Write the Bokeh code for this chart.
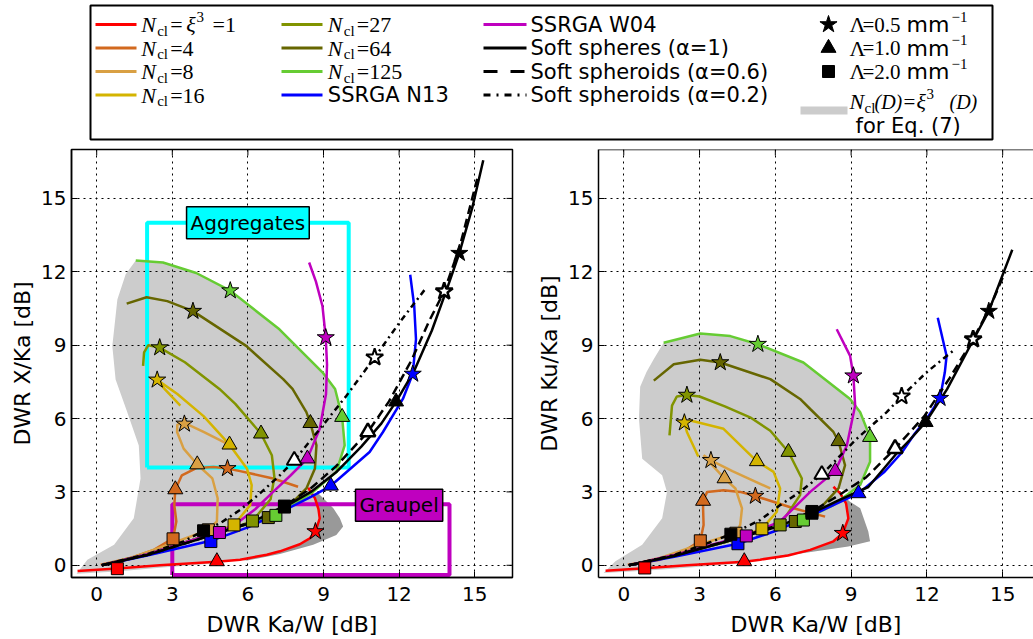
from bokeh.plotting import figure
from bokeh.layouts import column, row
from bokeh.models import Range1d, FixedTicker, Label, Span
from bokeh.core.properties import value
from bokeh.embed import file_html
from bokeh.resources import INLINE

TICKS = [0, 3, 6, 9, 12, 15]

# ---------------- data: left panel (DWR X/Ka vs DWR Ka/W) ----------------
L_N1 = [(-0.76, -0.23), (0.82, -0.13), (2.5, 0.0), (4.77, 0.14), (5.69, 0.23), (6.75, 0.43), (7.27, 0.57),
        (8.06, 0.86), (8.45, 1.1), (8.68, 1.38), (8.85, 1.92), (8.8, 2.3), (8.66, 2.74), (8.39, 3.17)]
L_N4 = [(0.16, 0.02), (1.34, 0.3), (2.27, 0.63), (3.03, 1.1), (3.16, 1.79), (3.08, 2.46), (3.12, 3.1),
        (3.38, 3.68), (3.97, 3.98), (4.64, 4.02), (5.19, 3.96), (5.69, 3.85), (7.0, 3.55), (7.99, 3.21)]
L_N8 = [(0.2, 0.0), (1.5, 0.35), (3.0, 0.9), (4.43, 1.45), (4.77, 1.79), (4.8, 2.74), (4.59, 3.55),
        (3.99, 4.12), (3.45, 4.77), (3.19, 5.45), (3.2, 5.75), (3.48, 5.82), (4.24, 5.45), (5.56, 4.77)]
L_N16 = [(0.2, 0.0), (2.0, 0.45), (4.0, 1.1), (5.45, 1.65), (6.09, 2.46), (6.15, 3.28), (5.96, 3.96),
         (5.27, 4.93), (4.24, 6.1), (3.2, 7.0), (2.4, 7.58), (2.7, 7.2), (3.32, 6.53)]
L_N27 = [(0.2, 0.0), (2.0, 0.45), (4.0, 1.1), (5.5, 1.55), (6.18, 1.81), (6.9, 2.7), (7.05, 3.6), (6.95, 4.5),
         (6.52, 5.38), (5.5, 6.6), (4.87, 7.21), (3.5, 8.3), (2.5, 8.9), (2.05, 9.0), (1.88, 8.7), (1.84, 8.15)]
L_N64 = [(0.2, 0.0), (2.0, 0.45), (4.0, 1.1), (6.0, 1.7), (6.81, 1.95), (7.8, 2.6), (8.32, 3.14), (8.66, 3.96),
         (8.72, 4.9), (8.48, 5.81), (8.32, 6.26), (7.77, 7.21), (7.4, 7.61), (5.93, 8.97), (3.82, 10.39),
         (2.8, 10.8), (1.98, 10.96), (1.19, 10.7)]
L_N125 = [(0.2, 0.0), (2.0, 0.45), (4.0, 1.1), (6.0, 1.7), (7.11, 2.04), (7.67, 2.4), (8.59, 3.0), (9.51, 3.82),
          (9.84, 4.9), (9.74, 6.06), (9.46, 7.21), (8.96, 7.89), (7.25, 9.65), (5.3, 11.23), (3.95, 11.95),
          (2.63, 12.38), (1.55, 12.46)]
L_N13 = [(0.2, 0.0), (2.0, 0.4), (4.53, 1.0), (6.0, 1.55), (7.45, 2.25), (8.5, 2.8), (9.29, 3.25), (10.83, 4.63),
         (11.36, 5.45), (12.15, 6.8), (12.54, 7.82), (12.67, 9.24), (12.6, 10.6), (12.44, 11.88)]
L_W04 = [(0.2, 0.0), (2.0, 0.45), (4.0, 1.1), (4.87, 1.34), (5.6, 1.75), (6.3, 2.3), (7.0, 3.0), (7.67, 3.65),
         (8.36, 4.36), (8.85, 5.58), (9.1, 7.0), (9.14, 8.2), (9.09, 9.31), (8.96, 10.59), (8.7, 11.6), (8.43, 12.38)]
L_SPH10 = [(0.2, 0.0), (2.0, 0.42), (4.0, 1.05), (6.0, 1.7), (7.45, 2.38), (8.5, 3.0), (9.5, 3.8), (10.5, 4.85),
           (11.3, 5.8), (11.88, 6.69), (12.6, 7.95), (13.3, 9.6), (13.9, 11.3), (14.39, 12.76), (14.9, 14.6),
           (15.34, 16.56)]
L_SPH06 = [(0.2, 0.0), (2.0, 0.42), (4.0, 1.05), (6.0, 1.72), (7.45, 2.42), (8.5, 3.15), (9.5, 4.05),
           (10.76, 5.45), (11.6, 6.7), (12.5, 8.4), (13.2, 10.0), (13.79, 11.2), (14.4, 13.0), (15.1, 15.8)]
L_SPH02 = [(0.2, 0.0), (2.0, 0.45), (3.45, 0.98), (4.24, 1.41), (4.9, 1.72), (5.69, 2.26), (6.48, 2.94),
           (7.27, 3.68), (7.84, 4.29), (8.8, 5.5), (9.91, 6.93), (11.03, 8.5), (12.0, 9.9), (13.07, 11.34)]
# markers: (square = Lambda 2.0, triangle = Lambda 1.0, star = Lambda 0.5)
L_MK = {
    "n1": [(0.82, -0.14), (4.77, 0.16), (8.68, 1.38)],
    "n4": [(3.03, 1.08), (3.12, 3.1), (5.19, 3.96)],
    "n8": [(4.43, 1.45), (3.99, 4.12), (3.48, 5.78)],
    "n16": [(5.45, 1.65), (5.27, 4.93), (2.4, 7.58)],
    "n27": [(6.18, 1.81), (6.52, 5.38), (2.5, 8.9)],
    "n64": [(6.81, 1.95), (8.48, 5.81), (3.82, 10.39)],
    "n125": [(7.11, 2.04), (9.74, 6.06), (5.3, 11.23)],
    "n13": [(4.53, 0.97), (9.29, 3.25), (12.54, 7.82)],
    "w04": [(4.87, 1.34), (8.36, 4.36), (9.09, 9.31)],
    "s10": [(7.45, 2.38), (11.88, 6.69), (14.39, 12.76)],
    "s06": [(7.45, 2.42), (10.76, 5.45), (13.79, 11.2)],
    "s02": [(4.24, 1.41), (7.84, 4.29), (11.03, 8.5)],
}
L_GRAY = [(1.55, 12.46), (2.63, 12.38), (3.95, 11.95), (5.3, 11.23), (7.25, 9.65), (8.96, 7.89), (9.46, 7.21),
          (9.74, 6.06), (9.84, 4.9), (9.51, 3.82), (8.9, 3.25), (8.45, 3.1), (8.72, 2.46), (8.85, 1.92),
          (8.68, 1.38), (8.06, 0.86), (6.75, 0.43), (4.77, 0.08), (2.5, -0.1), (0.8, -0.25), (-0.8, -0.35),
          (-0.37, 0.23), (0.69, 0.84), (1.47, 1.92), (1.74, 3.55), (1.67, 4.9), (1.21, 6.27), (0.75, 7.6),
          (0.62, 8.97), (0.82, 10.87), (1.15, 11.9)]
L_DARK = [(8.6, 2.9), (8.79, 2.94), (9.39, 2.33), (9.65, 1.92), (9.78, 1.59), (9.51, 1.24), (8.59, 0.84),
          (7.27, 0.46), (5.96, 0.19), (5.69, 0.23), (7.27, 0.57), (8.32, 0.98), (8.68, 1.38), (8.85, 1.92),
          (8.72, 2.46)]
AGG_BOX = (2, 10, 4, 14)       # x0, x1, y0, y1
GRAUPEL_BOX = (3, 14, -0.4, 2.5)

# ---------------- data: right panel (DWR Ku/Ka vs DWR Ka/W) ----------------
R_N1 = [(-0.72, -0.22), (0.83, -0.12), (2.5, 0.0), (4.77, 0.14), (5.4, 0.23), (6.5, 0.4), (7.38, 0.63),
        (8.3, 0.98), (8.67, 1.31), (8.89, 1.92), (8.8, 2.53), (8.57, 2.94), (8.3, 3.21)]
R_N4 = [(0.16, 0.02), (1.45, 0.23), (2.37, 0.57), (3.03, 1.0), (3.16, 1.65), (3.14, 2.33), (3.14, 2.63),
        (3.3, 3.0), (3.95, 3.07), (4.61, 3.0), (5.21, 2.83), (6.72, 2.33), (7.97, 1.99)]
R_N8 = [(0.2, 0.0), (1.5, 0.32), (3.0, 0.85), (4.44, 1.31), (4.61, 1.65), (4.68, 2.33), (4.42, 3.14),
        (3.99, 3.55), (3.45, 4.15), (3.16, 4.5), (3.45, 4.29), (4.3, 3.85), (5.8, 3.14)]
R_N16 = [(0.2, 0.0), (2.0, 0.4), (4.0, 0.95), (5.47, 1.49), (6.06, 2.19), (6.19, 3.14), (5.93, 3.82),
         (5.27, 4.25), (3.95, 5.58), (2.64, 5.92), (2.4, 5.83), (2.5, 5.45), (2.95, 4.45)]
R_N27 = [(0.2, 0.0), (2.0, 0.4), (4.0, 0.95), (5.5, 1.42), (6.19, 1.65), (6.98, 2.87), (7.05, 3.55),
         (6.52, 4.63), (5.8, 5.5), (5.0, 6.05), (4.0, 6.5), (3.0, 6.9), (2.5, 6.96), (2.1, 6.9), (1.91, 6.53),
         (1.81, 5.31)]
R_N64 = [(0.2, 0.0), (2.0, 0.4), (4.0, 0.95), (6.0, 1.6), (6.79, 1.79), (7.77, 2.33), (8.5, 3.14), (8.76, 4.09),
         (8.5, 5.07), (8.3, 5.45), (7.38, 6.39), (6.98, 6.8), (5.8, 7.61), (3.82, 8.29), (3.03, 8.4),
         (1.98, 8.22), (1.19, 7.55)]
R_N125 = [(0.2, 0.0), (2.0, 0.4), (4.0, 0.95), (6.0, 1.6), (7.11, 1.85), (8.3, 2.46), (9.36, 3.28),
          (9.75, 4.23), (9.75, 5.24), (9.36, 6.26), (8.96, 6.8), (7.11, 8.29), (5.31, 9.04), (4.22, 9.37),
          (3.03, 9.48), (1.58, 9.1)]
R_N13 = [(0.2, 0.0), (2.0, 0.35), (4.52, 0.88), (6.0, 1.4), (7.45, 2.05), (9.29, 2.94), (10.3, 3.8),
         (11.0, 4.6), (11.53, 5.4), (12.0, 6.0), (12.52, 6.83), (12.71, 7.89), (12.78, 8.56), (12.43, 10.12)]
R_W04 = [(0.2, 0.0), (2.0, 0.42), (4.0, 0.98), (4.85, 1.2), (6.19, 1.79), (7.38, 3.0), (8.37, 3.85),
         (8.83, 4.9), (9.16, 6.53), (9.09, 7.75), (8.96, 8.56), (8.43, 9.65)]
R_SPH10 = [(0.2, 0.0), (2.0, 0.38), (4.0, 0.95), (6.0, 1.55), (7.45, 2.13), (8.5, 2.65), (9.68, 3.2),
           (10.74, 4.5), (11.3, 5.1), (11.95, 5.85), (12.8, 7.2), (13.83, 9.2), (14.45, 10.39), (15.38, 12.9)]
R_SPH06 = [(0.2, 0.0), (2.0, 0.4), (4.0, 0.97), (6.0, 1.6), (7.45, 2.2), (8.5, 2.85), (9.6, 3.6),
           (10.74, 4.77), (11.9, 6.1), (12.9, 7.65), (13.83, 9.24), (14.5, 10.55), (15.1, 12.0)]
R_SPH02 = [(0.2, 0.0), (2.0, 0.42), (3.45, 0.95), (4.24, 1.27), (5.4, 1.85), (6.19, 2.46), (6.98, 3.0),
           (7.84, 3.71), (9.22, 5.17), (10.41, 6.26), (11.0, 6.91), (12.0, 7.9), (13.11, 8.83)]
R_MK = {
    "n1": [(0.83, -0.11), (4.77, 0.16), (8.67, 1.31)],
    "n4": [(3.03, 1.0), (3.14, 2.63), (5.21, 2.83)],
    "n8": [(4.44, 1.31), (3.99, 3.55), (3.45, 4.29)],
    "n16": [(5.47, 1.49), (5.27, 4.25), (2.4, 5.83)],
    "n27": [(6.19, 1.65), (6.52, 4.63), (2.5, 6.96)],
    "n64": [(6.79, 1.79), (8.5, 5.07), (3.82, 8.29)],
    "n125": [(7.11, 1.85), (9.75, 5.24), (5.31, 9.04)],
    "n13": [(4.52, 0.88), (9.29, 2.94), (12.52, 6.83)],
    "w04": [(4.85, 1.2), (8.37, 3.85), (9.09, 7.75)],
    "s10": [(7.45, 2.13), (11.95, 5.85), (14.45, 10.39)],
    "s06": [(7.45, 2.2), (10.74, 4.77), (13.83, 9.24)],
    "s02": [(4.24, 1.27), (7.84, 3.71), (11.0, 6.91)],
}
R_GRAY = [(1.58, 9.1), (3.03, 9.48), (4.22, 9.37), (5.31, 9.04), (7.11, 8.29), (8.96, 6.8), (9.36, 6.26),
          (9.75, 5.24), (9.75, 4.23), (9.36, 3.28), (8.9, 3.0), (8.3, 3.21), (8.57, 2.94), (8.8, 2.53),
          (8.89, 1.92), (8.67, 1.31), (8.3, 0.98), (7.38, 0.63), (5.4, 0.2), (4.77, 0.08), (2.5, -0.1),
          (0.83, -0.22), (-0.8, -0.32), (-0.33, 0.16), (0.73, 0.84), (1.52, 1.92), (1.71, 3.0), (1.52, 3.68),
          (0.73, 4.36), (0.6, 6.0), (0.65, 7.3), (0.9, 7.9), (1.19, 8.43)]
R_DARK = [(8.6, 2.9), (8.96, 2.6), (9.36, 2.33), (9.68, 1.38), (9.75, 0.98), (8.89, 0.77), (6.26, 0.37),
          (5.4, 0.23), (7.38, 0.63), (8.3, 0.98), (8.67, 1.31), (8.89, 1.92), (8.8, 2.53)]

SERIES_ORDER = ["n1", "n4", "n8", "n16", "n27", "n64", "n125", "n13", "w04"]
COLORS = {"n1": "#ff0000", "n4": "#d2691e", "n8": "#d9a043", "n16": "#d4b400", "n27": "#819400",
          "n64": "#666600", "n125": "#66cc33", "n13": "#0000ff", "w04": "#bf00bf"}
LIGHT_GRAY = "#cccccc"
DARK_GRAY = "#999999"
DASH_06 = "9 5"
DASH_02 = "6 4 2 4"
X_START, Y_START, Y_END = -1, -0.5, 17
PH, MBT, MBB = 494, 4, 60


def xs(pts):
    return [p[0] for p in pts]


def ys(pts):
    return [p[1] for p in pts]


def style_axis(ax, label, tick_standoff, label_standoff):
    ax.ticker = FixedTicker(ticks=TICKS)
    ax.axis_label = label
    ax.axis_label_text_font = "DejaVu Sans"
    ax.axis_label_text_font_size = "22px"
    ax.axis_label_text_font_style = "normal"
    ax.axis_label_text_color = "black"
    ax.axis_label_standoff = label_standoff
    ax.major_label_text_font = "DejaVu Sans"
    ax.major_label_text_font_size = "20px"
    ax.major_label_text_color = "black"
    ax.major_label_standoff = tick_standoff
    ax.major_tick_in = 6
    ax.major_tick_out = 0
    ax.minor_tick_in = 0
    ax.minor_tick_out = 0
    ax.major_tick_line_color = "black"
    ax.axis_line_color = "black"
    ax.axis_line_width = 1.5


def panel(ylabel, curves, soft, mk, gray, dark, width, mbl, mbr, xend, right_frame, boxes=False):
    p = figure(width=width, height=PH, x_range=Range1d(X_START, xend), y_range=Range1d(Y_START, Y_END),
               output_backend="svg", toolbar_location=None, min_border_left=mbl, min_border_right=mbr,
               min_border_top=MBT, min_border_bottom=MBB)
    style_axis(p.xaxis[0], "DWR Ka/W [dB]", 9, 8)
    style_axis(p.yaxis[0], ylabel, 5, 3)
    frame_w = width - mbl - mbr
    frame_h = PH - MBT - MBB
    dx = 6.0 * (xend - X_START) / frame_w
    dy = 6.0 * (Y_END - Y_START) / frame_h
    # inward ticks on top (and right) edges
    p.segment(x0=TICKS, y0=[Y_END] * len(TICKS), x1=TICKS, y1=[Y_END - dy] * len(TICKS),
              line_color="black", line_width=1)
    if right_frame:
        p.segment(x0=[xend] * len(TICKS), y0=TICKS, x1=[xend - dx] * len(TICKS), y1=TICKS,
                  line_color="black", line_width=1)
        p.outline_line_color = "black"
        p.outline_line_width = 1.5
    else:
        p.outline_line_color = None
        p.add_layout(Span(location=Y_END, dimension="width", line_color="black", line_width=1.5))
    for g in p.grid:
        g.ticker = FixedTicker(ticks=TICKS)
        g.grid_line_color = "black"
        g.grid_line_dash = "dotted"
        g.grid_line_width = 1
    p.background_fill_color = "white"

    p.patch(xs(gray), ys(gray), fill_color=LIGHT_GRAY, line_color=None, level="image")
    p.patch(xs(dark), ys(dark), fill_color=DARK_GRAY, line_color=None, level="image")

    if boxes:
        x0, x1, y0, y1 = AGG_BOX
        p.line([x0, x0, x1, x1, x0], [y0, y1, y1, y0, y0], line_color="#00ffff", line_width=4)
        x0, x1, y0, y1 = GRAUPEL_BOX
        p.line([x0, x0, x1, x1, x0], [y0, y1, y1, y0, y0], line_color="#bf00bf", line_width=4)

    for key in SERIES_ORDER:
        pts = curves[key]
        p.line(xs(pts), ys(pts), line_color=COLORS[key], line_width=2.5)
    p.line(xs(soft[2]), ys(soft[2]), line_color="black", line_width=2.5, line_dash=DASH_02)
    p.line(xs(soft[1]), ys(soft[1]), line_color="black", line_width=2.5, line_dash=DASH_06)
    p.line(xs(soft[0]), ys(soft[0]), line_color="black", line_width=2.5)

    for key in SERIES_ORDER:
        sq, tr, st = mk[key]
        c = COLORS[key]
        p.scatter([sq[0]], [sq[1]], marker="square", size=12, fill_color=c, line_color="black", line_width=1)
        p.scatter([tr[0]], [tr[1]], marker="triangle", size=15, fill_color=c, line_color="black", line_width=1)
        p.scatter([st[0]], [st[1]], marker="star", size=18, fill_color=c, line_color="black", line_width=1)
    for key, fill, lw in [("s02", "white", 2), ("s06", "white", 2.5), ("s10", "black", 1)]:
        sq, tr, st = mk[key]
        p.scatter([sq[0]], [sq[1]], marker="square", size=12, fill_color="black", line_color="black", line_width=1)
        p.scatter([tr[0]], [tr[1]], marker="triangle", size=15, fill_color=fill, line_color="black", line_width=lw)
        p.scatter([st[0]], [st[1]], marker="star", size=18, fill_color=fill, line_color="black", line_width=lw)

    if boxes:
        p.add_layout(Label(x=6, y=14, text="Aggregates", text_align="center", text_baseline="middle",
                           text_font="DejaVu Sans", text_font_size="20px", text_color="black",
                           background_fill_color="#00ffff", border_line_color="black",
                           border_line_width=1.5, padding=4))
        p.add_layout(Label(x=12, y=2.45, text="Graupel", text_align="center", text_baseline="middle",
                           text_font="DejaVu Sans", text_font_size="20px", text_color="black",
                           background_fill_color="#bf00bf", border_line_color="black",
                           border_line_width=1.5, padding=4))
    return p


left_curves = {"n1": L_N1, "n4": L_N4, "n8": L_N8, "n16": L_N16, "n27": L_N27, "n64": L_N64,
               "n125": L_N125, "n13": L_N13, "w04": L_W04}
right_curves = {"n1": R_N1, "n4": R_N4, "n8": R_N8, "n16": R_N16, "n27": R_N27, "n64": R_N64,
                "n125": R_N125, "n13": R_N13, "w04": R_W04}

P1W = 520
p1 = panel("DWR X/Ka [dB]", left_curves, [L_SPH10, L_SPH06, L_SPH02], L_MK, L_GRAY, L_DARK,
           P1W, 71, 8, 16.5, True, boxes=True)
p2 = panel("DWR Ku/Ka [dB]", right_curves, [R_SPH10, R_SPH06, R_SPH02], R_MK, R_GRAY, R_DARK,
           1033 - P1W, 78, 0, 16.22, False)

# ---------------- legend ----------------
LW, LH = 1033, 145
leg = figure(width=LW, height=LH, x_range=Range1d(0, LW), y_range=Range1d(LH, 0), output_backend="svg",
             toolbar_location=None, x_axis_type=None, y_axis_type=None, min_border=0)
leg.grid.visible = False
leg.outline_line_color = None


def T(x, y, s, size="21px", font="DejaVu Sans", style="normal"):
    leg.text(x=[x], y=[y], text=[s], text_font=value(font), text_font_size=size,
             text_font_style=style, text_align="left", text_baseline="middle", text_color="black")


def seg(x0, x1, y, color, dash="solid"):
    leg.line([x0, x1], [y, y], line_color=color, line_width=3, line_dash=dash)


def ncl(x0, y, rest):
    T(x0, y, "N", "22px", "Liberation Serif", "italic")
    T(x0 + 16, y + 6, "cl", "15px", "Liberation Serif")
    T(x0 + 29, y, rest, "22px", "Liberation Serif")


leg.quad(left=[90], right=[992], top=[5], bottom=[139], fill_color=None, line_color="black", line_width=2)

ROWS = [24, 47.5, 71, 94.5]
# column 1
seg(95, 136, ROWS[0], COLORS["n1"])
T(140.7, ROWS[0], "N", "22px", "Liberation Serif", "italic")
T(156.7, ROWS[0] + 6, "cl", "15px", "Liberation Serif")
T(169.7, ROWS[0], "=", "22px", "Liberation Serif")
T(185.7, ROWS[0], "ξ", "22px", "Liberation Serif", "italic")
T(196, ROWS[0] - 8, "3", "15px", "Liberation Serif")
T(212, ROWS[0], "=1", "22px", "Liberation Serif")
seg(95, 136, ROWS[1], COLORS["n4"])
ncl(140.7, ROWS[1], "=4")
seg(95, 136, ROWS[2], COLORS["n8"])
ncl(140.7, ROWS[2], "=8")
seg(95, 136, ROWS[3], COLORS["n16"])
ncl(140.7, ROWS[3], "=16")
# column 2
seg(281, 322, ROWS[0], COLORS["n27"])
ncl(327.3, ROWS[0], "=27")
seg(281, 322, ROWS[1], COLORS["n64"])
ncl(327.3, ROWS[1], "=64")
seg(281, 322, ROWS[2], COLORS["n125"])
ncl(327.3, ROWS[2], "=125")
seg(281, 322, ROWS[3], COLORS["n13"])
T(327.3, ROWS[3], "SSRGA N13")
# column 3
seg(483, 526, ROWS[0], COLORS["w04"])
T(530, ROWS[0], "SSRGA W04")
seg(483, 526, ROWS[1], "black")
T(530, ROWS[1], "Soft spheres (α=1)")
seg(483, 526, ROWS[2], "black", "14 13")
T(530, ROWS[2], "Soft spheroids (α=0.6)")
seg(483, 526, ROWS[3], "black", "7 6 2 6")
T(530, ROWS[3], "Soft spheroids (α=0.2)")
# column 4
for mk_name, yy, sz, lam in [("star", ROWS[0], 18, "=0.5"), ("triangle", ROWS[1], 15, "=1.0"),
                             ("square", ROWS[2], 12, "=2.0")]:
    leg.scatter([828], [yy], marker=mk_name, size=sz, fill_color="black", line_color="black")
    T(849, yy, "Λ", "22px", "Liberation Serif")
    T(862, yy, lam, "21px", "Liberation Serif")
    T(906, yy, "mm", "22px")
    T(951, yy - 8, "−1", "15px", "Liberation Serif")
leg.quad(left=[800], right=[847], top=[106], bottom=[114], fill_color=LIGHT_GRAY, line_color=None)
T(849, 101, "N", "22px", "Liberation Serif", "italic")
T(864, 107, "cl", "15px", "Liberation Serif")
T(874, 101, "(D)", "20px", "Liberation Serif", "italic")
T(903, 101, "=", "21px", "Liberation Serif")
T(916, 101, "ξ", "22px", "Liberation Serif", "italic")
T(926, 93, "3", "15px", "Liberation Serif")
T(949, 101, "(D)", "20px", "Liberation Serif", "italic")
T(855, 125, "for Eq. (7)", "21px")

layout = column(leg, row(p1, p2))
open("out.html", "w").write(file_html(layout, INLINE))
